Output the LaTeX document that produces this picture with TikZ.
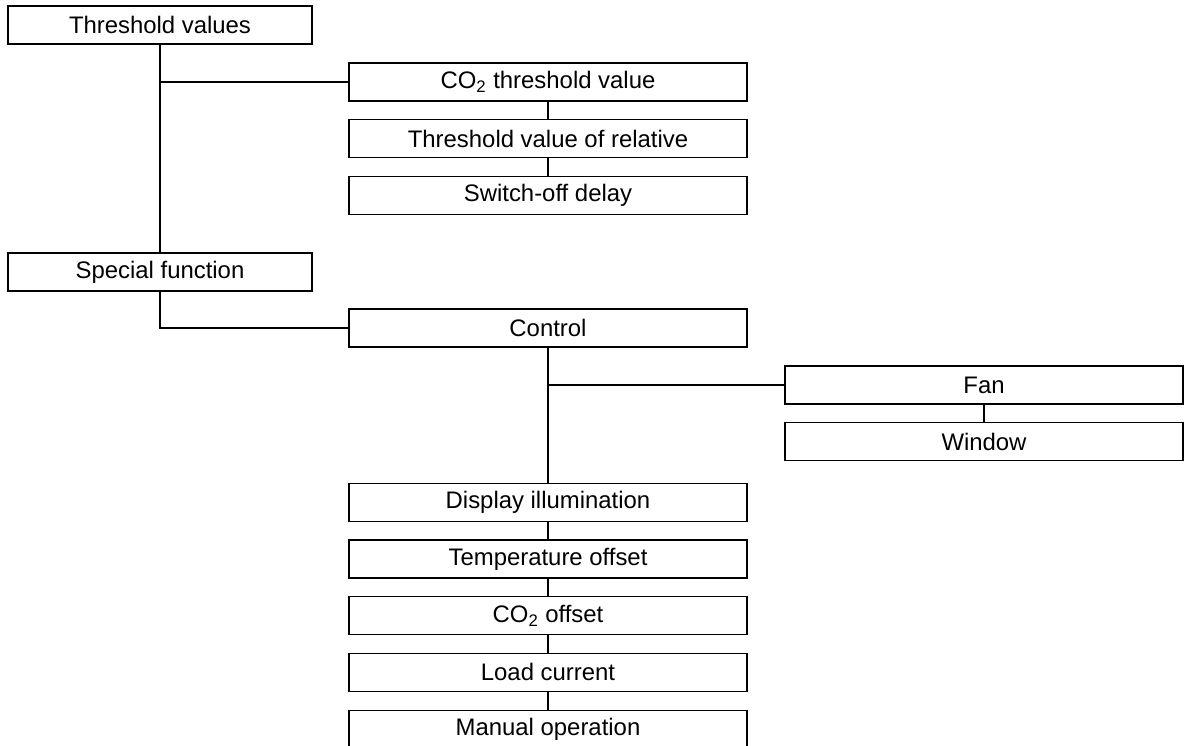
\documentclass[tikz,border=0pt]{standalone}
\usepackage{fontspec}
\setmainfont{Liberation Sans}
\usepackage{tikz}
\usetikzlibrary{positioning,calc}

\begin{document}
\begin{tikzpicture}[node distance=0.35cm, line width=0.7pt,
        font=\fontsize{13.6}{16}\selectfont,
        groupbox/.style={rectangle, draw, fill=white, minimum width=6.08cm, minimum height=0.76cm, inner sep=0pt},
        itembox/.style={rectangle, draw, fill=white, minimum width=7.96cm, minimum height=0.76cm, inner sep=0pt}]

        \useasboundingbox (0,0) rectangle (23.68,-14.9);
        \clip (0,0) rectangle (23.68,-14.9);

        % first group
        \node [groupbox] (thresh) at (3.2,-0.5) {Threshold values};
        \node [itembox] (co2) at (10.96,-1.64) {CO\textsubscript{2} threshold value};
        \node [itembox, below=of co2] (relhum) {Threshold value of relative};
        \node [itembox, below=of relhum] (delay) {Switch-off delay};

        % second group
        \node [groupbox] (special) at (3.2,-5.44) {Special function};
        \node [itembox] (control) at (10.96,-6.56) {Control};
        \node [itembox] (fan) at (19.68,-7.7) {Fan};
        \node [itembox, below=of fan] (window) {Window};
        \node [itembox, below=2.7cm of control] (display) {Display illumination};
        \node [itembox, below=of display] (tempoff) {Temperature offset};
        \node [itembox, below=of tempoff] (co2off) {CO\textsubscript{2} offset};
        \node [itembox, below=of co2off] (load) {Load current};
        \node [itembox, below=of load] (manual) {Manual operation};

        \draw (thresh) -- (special);
        \draw (thresh.south |- co2) -- (co2);
        \draw (co2) -- (relhum);
        \draw (relhum) -- (delay);
        \draw (special.south) |- (control.west);
        \draw (control) -- (display);
        \draw (control.south |- fan) -- (fan);
        \draw (fan) -- (window);
        \draw (display) -- (tempoff);
        \draw (tempoff) -- (co2off);
        \draw (co2off) -- (load);
        \draw (load) -- (manual);
    \end{tikzpicture}
\end{document}
